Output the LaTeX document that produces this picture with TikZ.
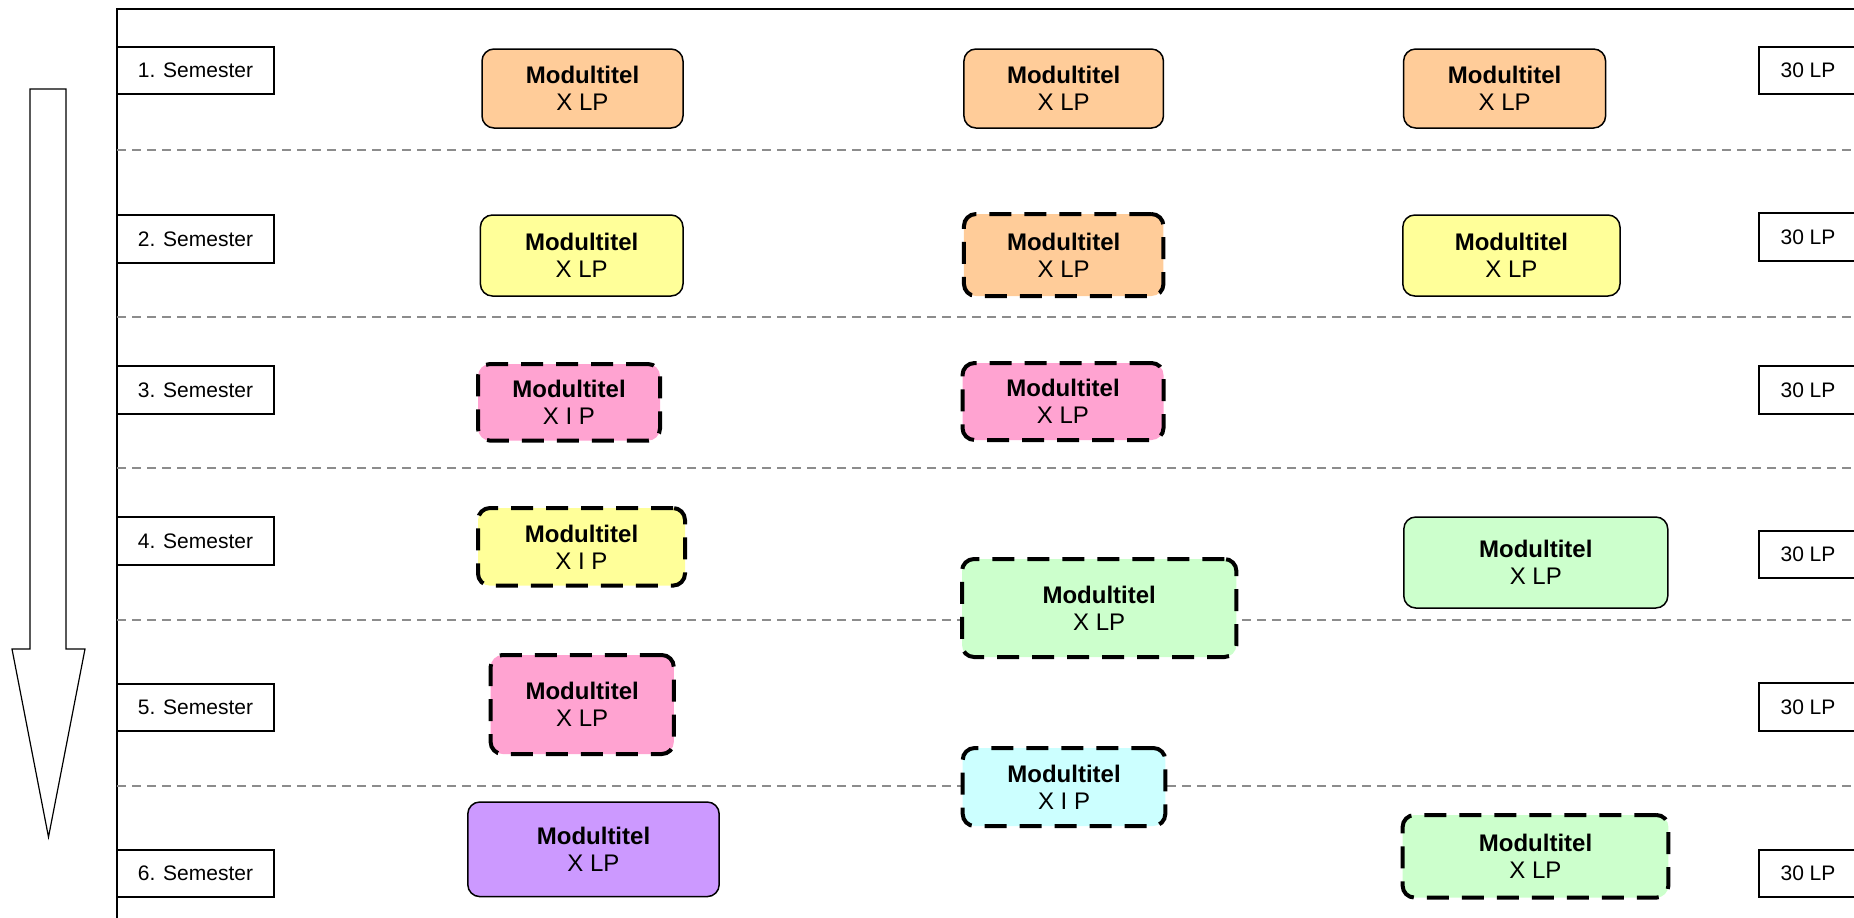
\documentclass[tikz,border=0pt]{standalone}
\usepackage{fontspec}
\setmainfont{Liberation Sans}
\definecolor{morange}{HTML}{FFCC99}
\definecolor{myellow}{HTML}{FFFF99}
\definecolor{mpink}{HTML}{FFA3D1}
\definecolor{mgreen}{HTML}{CCFFCC}
\definecolor{mpurple}{HTML}{CC99FF}
\definecolor{mcyan}{HTML}{CCFFFF}
\definecolor{sepgray}{HTML}{8C8C8C}
\tikzset{
  modbase/.style={rounded corners=6pt, align=center, inner sep=0pt,
    font=\fontsize{12}{13.5}\selectfont},
  solidmod/.style={modbase, draw=black, line width=0.75pt},
  dashmod/.style={modbase, draw=black, line width=2pt, dash pattern=on 11pt off 6.5pt},
  sz/.style 2 args={minimum width=#1, minimum height=#2},
  sembox/.style={draw=black, line width=1pt, fill=white, minimum width=78.5pt,
    minimum height=23.7pt, inner sep=0pt, font=\fontsize{10.5}{12}\selectfont},
  lpbox/.style={sembox, minimum width=49pt},
  sepline/.style={draw=sepgray, line width=0.8pt, dash pattern=on 4.5pt off 3pt},
  framel/.style={draw=black, line width=1pt},
  timearrow/.style={draw=black, line width=0.6pt, fill=white}
}
\newcommand{\modtext}[1]{\textbf{Modultitel}\\#1}
\begin{document}
\begin{tikzpicture}[x=0.5pt,y=-0.5pt]
\useasboundingbox (0,0) rectangle (1854,917);
% frame
\coordinate (ftr) at (1860,9);
\coordinate (ftl) at (117,9);
\coordinate (fbl) at (117,925);
\draw[framel] (ftr) -- (ftl) -- (fbl);
% separators
\foreach \yy/\nm in {150/s1,317/s2,468/s3,620/s4,786/s5}{
  \coordinate (\nm a) at (117,\yy);
  \coordinate (\nm b) at (1860,\yy);
  \draw[sepline] (\nm a) -- (\nm b);
}
% arrow
\draw[timearrow] (30,89) -- (66,89) -- (66,649) -- (85,649) -- (48.5,837) -- (12,649) -- (30,649) -- cycle;
% semester labels
\node[sembox] (sem1) at (195.5,70.5) {1. Semester};
\node[sembox] (sem2) at (195.5,239) {2. Semester};
\node[sembox] (sem3) at (195.5,390) {3. Semester};
\node[sembox] (sem4) at (195.5,541) {4. Semester};
\node[sembox] (sem5) at (195.5,707.5) {5. Semester};
\node[sembox] (sem6) at (195.5,873.5) {6. Semester};
% LP labels
\node[lpbox] (lp1) at (1808,70.5) {30 LP};
\node[lpbox] (lp2) at (1808,237) {30 LP};
\node[lpbox] (lp3) at (1808,390) {30 LP};
\node[lpbox] (lp4) at (1808,554.3) {30 LP};
\node[lpbox] (lp5) at (1808,707) {30 LP};
\node[lpbox] (lp6) at (1808,873.5) {30 LP};
% modules
\node[solidmod, fill=morange, sz={100.5pt}{39.5pt}] (m11) at (582.5,88.5) {\modtext{X LP}};
\node[solidmod, fill=morange, sz={99.75pt}{39.5pt}] (m12) at (1063.7,88.5) {\modtext{X LP}};
\node[solidmod, fill=morange, sz={101pt}{39.5pt}] (m13) at (1504.6,88.5) {\modtext{X LP}};
\node[solidmod, fill=myellow, sz={101.3pt}{40.5pt}] (m21) at (581.7,255.5) {\modtext{X LP}};
\node[dashmod, fill=morange, sz={99.75pt}{41pt}] (m22) at (1063.7,255) {\modtext{X LP}};
\node[solidmod, fill=myellow, sz={108.6pt}{40.5pt}] (m23) at (1511.4,255.5) {\modtext{X LP}};
\node[dashmod, fill=mpink, sz={91pt}{38.3pt}] (m31) at (569,402.3) {\modtext{X I P}};
\node[dashmod, fill=mpink, sz={100.5pt}{38.5pt}] (m32) at (1063,401.5) {\modtext{X LP}};
\node[dashmod, fill=myellow, sz={103.5pt}{38.8pt}] (m41) at (581.5,546.8) {\modtext{X I P}};
\node[dashmod, fill=mgreen, sz={137.2pt}{49pt}] (m42) at (1099.2,608) {\modtext{X LP}};
\node[solidmod, fill=mgreen, sz={132pt}{45.5pt}] (m43) at (1535.8,562.5) {\modtext{X LP}};
\node[dashmod, fill=mpink, sz={91.6pt}{49.5pt}] (m51) at (582.2,704.5) {\modtext{X LP}};
\node[solidmod, fill=mpurple, sz={125.7pt}{47.3pt}] (m61) at (593.5,849.3) {\modtext{X LP}};
\node[dashmod, fill=mcyan, sz={101.3pt}{39pt}] (m62) at (1064,787) {\modtext{X I P}};
\node[dashmod, fill=mgreen, sz={132.9pt}{41.3pt}] (m63) at (1535.5,856.3) {\modtext{X LP}};
\end{tikzpicture}
\end{document}
